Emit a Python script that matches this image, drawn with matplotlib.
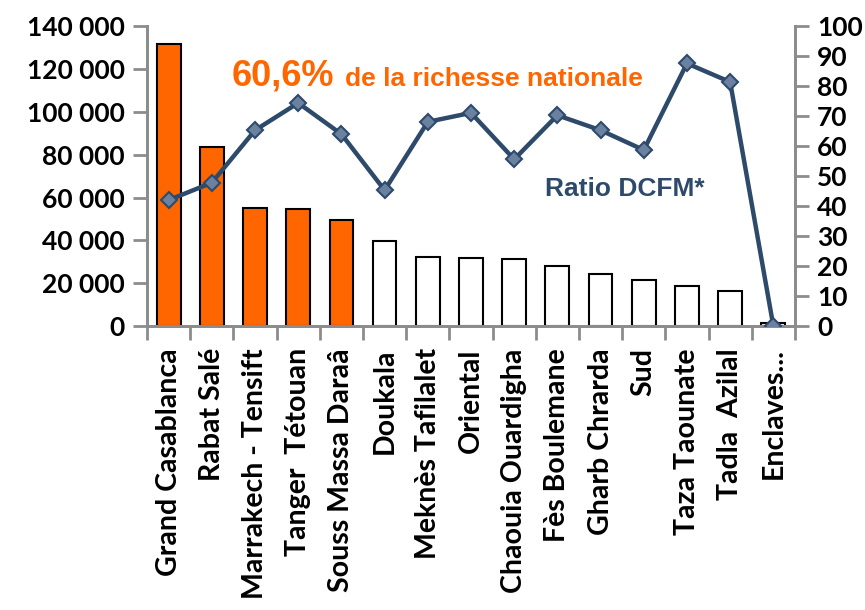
import numpy as np
import matplotlib
matplotlib.use("Agg")
import matplotlib.pyplot as plt
from matplotlib.ticker import FuncFormatter, MultipleLocator

# Regions, PIB regional (bars) and ratio DCFM (line)
regions = ["Grand Casablanca", "Rabat Salé", "Marrakech - Tensift", "Tanger  Tétouan",
           "Souss Massa Daraâ", "Doukala", "Meknès Tafilalet", "Oriental",
           "Chaouia Ouardigha", "Fès Boulemane", "Gharb Chrarda", "Sud",
           "Taza Taounate", "Tadla  Azilal", "Enclaves..."]
pib = [131600, 83500, 55100, 54600, 49500, 39700, 32300, 31900,
       31300, 28100, 24100, 21500, 18700, 16300, 1500]
ratio = [42, 47.8, 65.3, 74.4, 64, 45.3, 68.1, 71.1,
         55.6, 70.3, 65.3, 58.7, 87.6, 81.4, 0]
n_top = 5  # regions making up 60,6% of national wealth

orange = "#FF6600"
navy = "#2E4A6B"
grey = "#8C8C8C"

plt.rcParams['font.family'] = ['Lato', 'DejaVu Sans']

fig = plt.figure(figsize=(8.65, 6.10), dpi=100)
ax = fig.add_axes([0.170, 0.4656, 0.749, 0.4914])
ax2 = ax.twinx()

x = np.arange(len(regions))
colors = [orange if i < n_top else "white" for i in range(len(regions))]
ax.bar(x, pib, width=0.55, color=colors, edgecolor="black", linewidth=1.5, zorder=2)

ax2.plot(x, ratio, color=navy, linewidth=3.2, marker="D", markersize=8,
         markerfacecolor="#6A82A0", markeredgecolor=navy, markeredgewidth=1.5, zorder=3)

ax.set_xlim(-0.5, len(regions) - 0.5)
ax.set_ylim(0, 140000)
ax2.set_ylim(0, 100)
ax.yaxis.set_major_locator(MultipleLocator(20000))
ax2.yaxis.set_major_locator(MultipleLocator(10))
ax.yaxis.set_major_formatter(FuncFormatter(lambda v, p: f"{int(v):,}".replace(",", " ")))

ax.set_xticks(x)
ax.set_xticklabels(regions, rotation=90, fontsize=20.5, fontweight="bold")
ax.set_xticks(np.arange(-0.5, len(regions)), minor=True)
ax.tick_params(axis="x", which="major", length=0, pad=16)
ax.tick_params(axis="x", which="minor", length=10, width=2, color=grey)
ax.tick_params(axis="y", length=10, width=2, color=grey, labelsize=19, pad=6)
ax2.tick_params(axis="y", length=10, width=2, color=grey, labelsize=19, pad=6)
for lab in ax.get_yticklabels() + ax2.get_yticklabels():
    lab.set_fontweight("bold")

for a in (ax, ax2):
    a.spines["top"].set_visible(False)
    for s in ("left", "right", "bottom"):
        a.spines[s].set_color(grey)
        a.spines[s].set_linewidth(2)

fig.text(0.268, 0.875, "60,6%", color=orange, fontsize=26, fontweight="bold",
         family=["Liberation Sans"], va="center")
fig.text(0.399, 0.870, "de la richesse nationale", color=orange, fontsize=19,
         fontweight="bold", family=["Liberation Sans"], va="center")
fig.text(0.630, 0.690, "Ratio DCFM*", color=navy, fontsize=19, fontweight="bold",
         family=["Liberation Sans"], va="center")

fig.savefig("out.png", dpi=100)
